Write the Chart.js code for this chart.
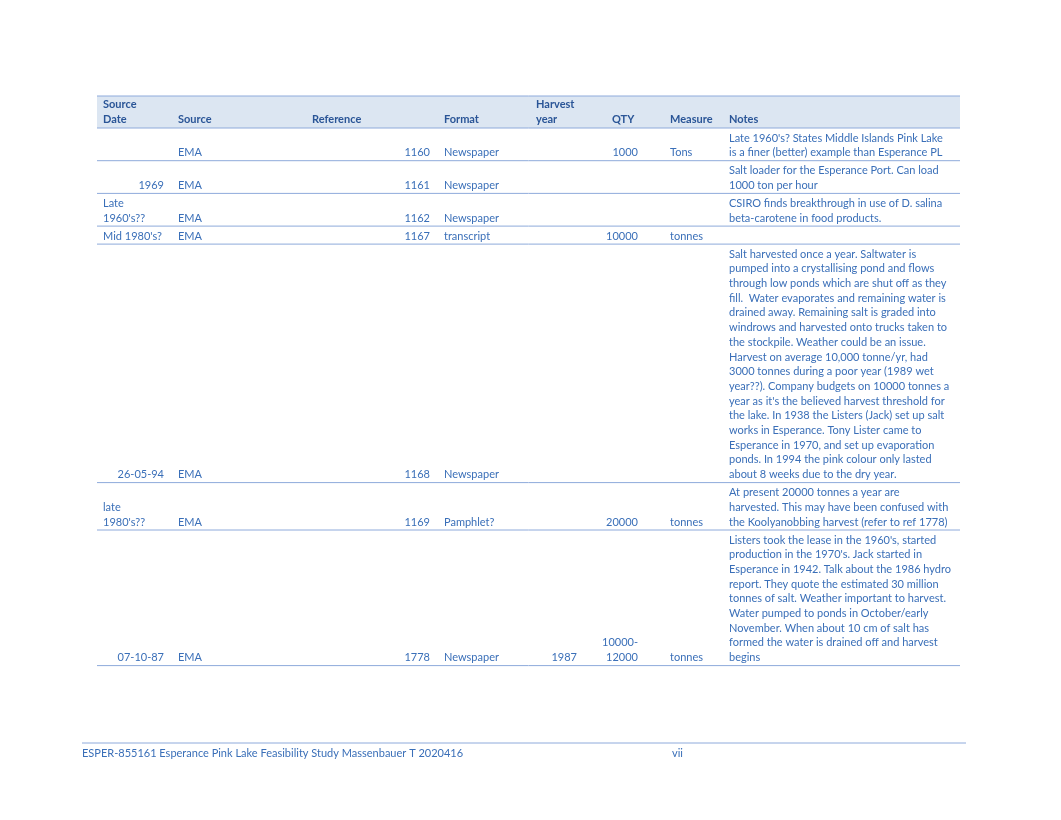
<!DOCTYPE html>
<html><head><meta charset="utf-8">
<script src="https://cdn.jsdelivr.net/npm/chart.js@4"></script>
<style>html,body{margin:0;background:#fff}#wrap{width:1061px;height:820px;position:relative}</style>
</head><body><div id="wrap"><canvas id="tbl"></canvas></div>
<script>
// table contents, one array per column
const dates = [[''], ['1969'], ['Late', "1960's??"], ["Mid 1980's?"], ['26-05-94'], ['late', "1980's??"], ['07-10-87']];
const sources = ['EMA', 'EMA', 'EMA', 'EMA', 'EMA', 'EMA', 'EMA'];
const refs = ['1160', '1161', '1162', '1167', '1168', '1169', '1778'];
const formats = ['Newspaper', 'Newspaper', 'Newspaper', 'transcript', 'Newspaper', 'Pamphlet?', 'Newspaper'];
const years = ['', '', '', '', '', '', '1987'];
const qtys = [['1000'], [''], [''], ['10000'], [''], ['20000'], ['10000-', '12000']];
const measures = ['Tons', '', '', 'tonnes', '', 'tonnes', 'tonnes'];
const notes = [
  ["Late 1960's? States Middle Islands Pink Lake", 'is a finer (better) example than Esperance PL'],
  ['Salt loader for the Esperance Port. Can load', '1000 ton per hour'],
  ['CSIRO finds breakthrough in use of D. salina', 'beta-carotene in food products.'],
  [''],
  ['Salt harvested once a year. Saltwater is', 'pumped into a crystallising pond and flows', 'through low ponds which are shut off as they', 'fill.  Water evaporates and remaining water is', 'drained away. Remaining salt is graded into', 'windrows and harvested onto trucks taken to', 'the stockpile. Weather could be an issue.', 'Harvest on average 10,000 tonne/yr, had', '3000 tonnes during a poor year (1989 wet', 'year??). Company budgets on 10000 tonnes a', "year as it's the believed harvest threshold for", 'the lake. In 1938 the Listers (Jack) set up salt', 'works in Esperance. Tony Lister came to', 'Esperance in 1970, and set up evaporation', 'ponds. In 1994 the pink colour only lasted', 'about 8 weeks due to the dry year.'],
  ['At present 20000 tonnes a year are', 'harvested. This may have been confused with', 'the Koolyanobbing harvest (refer to ref 1778)'],
  ["Listers took the lease in the 1960's, started", "production in the 1970's. Jack started in", 'Esperance in 1942. Talk about the 1986 hydro', 'report. They quote the estimated 30 million', 'tonnes of salt. Weather important to harvest.', 'Water pumped to ponds in October/early', 'November. When about 10 cm of salt has', 'formed the water is drained off and harvest', 'begins']
];
const headers = [['Source', 'Date'], ['Source'], ['Reference'], ['Format'], ['Harvest', 'year'], ['QTY'], ['Measure'], ['Notes']];
const footerLeft = 'ESPER-855161 Esperance Pink Lake Feasibility Study Massenbauer T 2020416';
const footerRight = 'vii';

const BODY = '#3a6fb8', HEAD = '#2a5597', LINE = '#8eaadb';
const LH = 14.7;
const hx = [103, 178, 312, 444, 536, 612, 670, 729];

const tablePlugin = {
  id: 'tablePlugin',
  afterDraw(chart) {
    const ctx = chart.ctx, X = chart.scales.x, Y = chart.scales.y;
    const px = v => X.getPixelForValue(v), py = v => Y.getPixelForValue(v);
    const hline = (x0, x1, y, c, w) => { ctx.strokeStyle = c; ctx.lineWidth = w; ctx.beginPath(); ctx.moveTo(px(x0), py(y)); ctx.lineTo(px(x1), py(y)); ctx.stroke(); };
    ctx.save();
    ctx.textBaseline = 'middle';
    // header band
    ctx.fillStyle = '#dce6f2';
    ctx.fillRect(px(97), py(96), px(960) - px(97), py(128) - py(96));
    hline(97, 960, 96, LINE, 1);
    hline(97, 960, 128, LINE, 1);
    ctx.font = 'bold 11px Lato, Calibri, sans-serif';
    ctx.fillStyle = HEAD;
    headers.forEach((h, i) => h.forEach((t, k) => {
      ctx.textAlign = 'left';
      ctx.fillText(t, px(hx[i]), py(119 - (h.length - 1 - k) * LH));
    }));
    // rows
    ctx.font = '11px Lato, Calibri, sans-serif';
    ctx.fillStyle = BODY;
    let top = 128;
    const put = (lines, x, align, last) => {
      ctx.textAlign = align;
      lines.forEach((t, k) => ctx.fillText(t, px(x), py(last - (lines.length - 1 - k) * LH)));
    };
    for (let r = 0; r < notes.length; r++) {
      const n = Math.max(notes[r].length, dates[r].length, qtys[r].length);
      const last = top + 10 + (n - 1) * LH;
      const dnum = /^[0-9-]+$/.test(dates[r][0]);
      put(dates[r], dnum ? 164 : 103, dnum ? 'right' : 'left', last);
      put([sources[r]], 178, 'left', last);
      put([refs[r]], 430, 'right', last);
      put([formats[r]], 444, 'left', last);
      put([years[r]], 577, 'right', last);
      put(qtys[r], 638, 'right', last);
      put([measures[r]], 670, 'left', last);
      put(notes[r], 729, 'left', last);
      top = last + 8;
      hline(97, 960, top, LINE, 1);
    }
    // footer
    hline(82, 966, 743, LINE, 1);
    ctx.textAlign = 'left';
    ctx.fillText(footerLeft, px(82), py(753));
    ctx.fillText(footerRight, px(672), py(753));
    ctx.restore();
  }
};

new Chart(document.getElementById('tbl'), {
  type: 'scatter',
  data: { datasets: [{ data: [] }] },
  options: {
    responsive: true, maintainAspectRatio: false, animation: false,
    layout: { padding: 0 },
    plugins: { legend: { display: false }, tooltip: { enabled: false } },
    scales: {
      x: { type: 'linear', min: 0, max: 1061, display: false },
      y: { type: 'linear', min: 0, max: 820, reverse: true, display: false }
    }
  },
  plugins: [tablePlugin]
});
</script></body></html>
